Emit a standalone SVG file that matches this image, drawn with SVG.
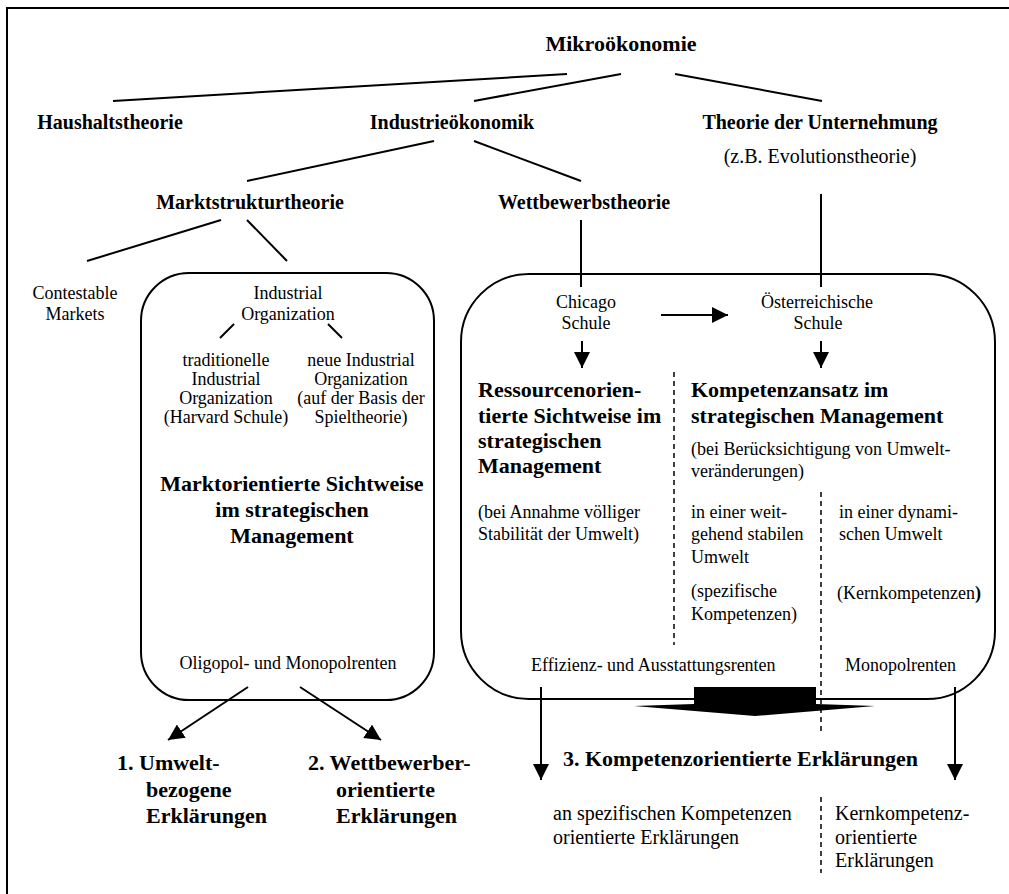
<svg xmlns="http://www.w3.org/2000/svg" width="1009" height="894" viewBox="0 0 1009 894">
<style>
text{font-family:"Liberation Serif","Times New Roman",serif;fill:#000}
.b20{font-size:20px;font-weight:bold}
.b22{font-size:22px;font-weight:bold}
.r18{font-size:18px}
.r20{font-size:20px}
.m{text-anchor:middle}
.ln{stroke:#000;stroke-width:2;fill:none}
.ar{stroke:#000;stroke-width:2;fill:none;marker-end:url(#ah)}
.ds{stroke:#000;stroke-width:1.5;stroke-dasharray:5 4;fill:none}
.box{fill:none;stroke:#000;stroke-width:2}
</style>
<defs>
<marker id="ah" viewBox="0 0 16 16" refX="16" refY="8" markerWidth="16" markerHeight="16" markerUnits="userSpaceOnUse" orient="auto">
<path d="M0,0 L16,8 L0,16 z" fill="#000"/>
</marker>
</defs>
<rect width="1009" height="894" fill="#fff"/>
<path class="ln" d="M7,894 V8 H1009"/>

<g id="mikro"><text class="b22 m" x="621" y="51">Mikroökonomie</text></g>
<g id="haushalt"><text class="b20 m" x="110" y="129">Haushaltstheorie</text></g>
<g id="industrie"><text class="b20 m" x="452" y="129">Industrieökonomik</text></g>
<g id="theorie"><text class="b20 m" x="820" y="129">Theorie der Unternehmung</text>
<text class="r20 m" x="820" y="163">(z.B. Evolutionstheorie)</text></g>
<g id="marktstruktur"><text class="b20 m" x="250" y="209">Marktstrukturtheorie</text></g>
<g id="wettbewerb"><text class="b20 m" x="584" y="209">Wettbewerbstheorie</text></g>
<g id="contestable"><text class="r18 m" x="75" y="299">Contestable</text><text class="r18 m" x="75" y="320">Markets</text></g>

<g id="marktbox">
<rect class="box" x="141" y="273" width="293" height="427" rx="48" ry="48"/>
<text class="r18 m" x="288" y="299">Industrial</text>
<text class="r18 m" x="288" y="320">Organization</text>
<text class="r18 m" x="226" y="366">traditionelle</text>
<text class="r18 m" x="226" y="385">Industrial</text>
<text class="r18 m" x="226" y="404">Organization</text>
<text class="r18 m" x="226" y="423">(Harvard Schule)</text>
<text class="r18 m" x="361" y="366">neue Industrial</text>
<text class="r18 m" x="361" y="385">Organization</text>
<text class="r18 m" x="361" y="404">(auf der Basis der</text>
<text class="r18 m" x="361" y="423">Spieltheorie)</text>
<text class="b22 m" x="292" y="491">Marktorientierte Sichtweise</text>
<text class="b22 m" x="292" y="517">im strategischen</text>
<text class="b22 m" x="292" y="543">Management</text>
<text class="r18 m" x="288" y="669">Oligopol- und Monopolrenten</text>
</g>

<g id="ressourcenbox">
<rect class="box" x="461" y="274" width="534" height="425" rx="68" ry="68"/>
<text class="r18 m" x="586" y="308">Chicago</text>
<text class="r18 m" x="586" y="329">Schule</text>
<text class="r18 m" x="817" y="308">Österreichische</text>
<text class="r18 m" x="818" y="329">Schule</text>
<text class="b22" x="478" y="397">Ressourcenorien-</text>
<text class="b22" x="478" y="423">tierte Sichtweise im</text>
<text class="b22" x="478" y="448">strategischen</text>
<text class="b22" x="478" y="473">Management</text>
<text class="r18" x="478" y="518">(bei Annahme völliger</text>
<text class="r18" x="478" y="540">Stabilität der Umwelt)</text>
<text class="b22" x="691" y="397">Kompetenzansatz im</text>
<text class="b22" x="691" y="423">strategischen Management</text>
<text class="r18" x="691" y="455">(bei Berücksichtigung von Umwelt-</text>
<text class="r18" x="691" y="477">veränderungen)</text>
<text class="r18" x="691" y="518">in einer weit-</text>
<text class="r18" x="691" y="540">gehend stabilen</text>
<text class="r18" x="691" y="563">Umwelt</text>
<text class="r18" x="691" y="597">(spezifische</text>
<text class="r18" x="691" y="620">Kompetenzen)</text>
<text class="r18" x="839" y="518">in einer dynami-</text>
<text class="r18" x="839" y="540">schen Umwelt</text>
<text class="r18" x="837" y="599">(Kernkompetenzen<tspan font-weight="bold">)</tspan></text>
<text class="r18" x="531" y="671">Effizienz- und Ausstattungsrenten</text>
<text class="r18" x="845" y="671">Monopolrenten</text>
</g>

<g id="erkl1"><text class="b22" x="117" y="770">1. Umwelt-</text><text class="b22" x="146" y="797">bezogene</text><text class="b22" x="146" y="823">Erklärungen</text></g>
<g id="erkl2"><text class="b22" x="308" y="770">2. Wettbewerber-</text><text class="b22" x="336" y="797">orientierte</text><text class="b22" x="336" y="823">Erklärungen</text></g>
<g id="erkl3"><text class="b22" x="563" y="766">3. Kompetenzorientierte Erklärungen</text>
<text class="r20" x="553" y="820">an spezifischen Kompetenzen</text>
<text class="r20" x="553" y="844">orientierte Erklärungen</text>
<text class="r20" x="835" y="820">Kernkompetenz-</text>
<text class="r20" x="835" y="844">orientierte</text>
<text class="r20" x="835" y="867">Erklärungen</text></g>

<g id="connectors">
<line class="ln" x1="567" y1="74" x2="113" y2="101"/>
<line class="ln" x1="621" y1="74" x2="474" y2="101"/>
<line class="ln" x1="675" y1="74" x2="822" y2="101"/>
<line class="ln" x1="434" y1="141" x2="247" y2="181"/>
<line class="ln" x1="474" y1="141" x2="581" y2="181"/>
<line class="ln" x1="221" y1="220" x2="87" y2="261"/>
<line class="ln" x1="247" y1="220" x2="287" y2="261"/>
<line class="ln" x1="581" y1="220" x2="581" y2="287"/>
<line class="ln" x1="821" y1="194" x2="821" y2="287"/>
<line class="ln" x1="234" y1="324" x2="220" y2="338"/>
<line class="ln" x1="328" y1="324" x2="342" y2="338"/>
<line class="ar" x1="661" y1="315" x2="728" y2="315"/>
<line class="ar" x1="582" y1="341" x2="582" y2="368"/>
<line class="ar" x1="821" y1="341" x2="821" y2="368"/>
<line class="ds" x1="674" y1="372" x2="674" y2="645"/>
<line class="ds" x1="821" y1="492" x2="821" y2="733"/>
<line class="ds" x1="821" y1="797" x2="821" y2="873"/>
<line class="ar" x1="248" y1="687" x2="168" y2="740"/>
<line class="ar" x1="300" y1="687" x2="381" y2="740"/>
<line class="ar" x1="541" y1="687" x2="541" y2="780"/>
<line class="ar" x1="955" y1="687" x2="955" y2="780"/>
<polygon points="694,687 816,687 816,704 875,706 755,716 634,706 694,704" fill="#000"/>
</g>
</svg>
